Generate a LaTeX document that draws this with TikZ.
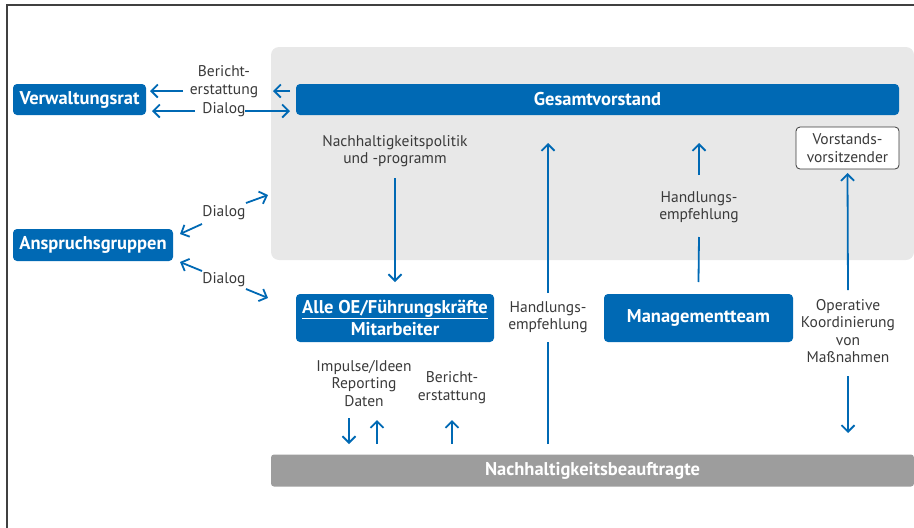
\documentclass[tikz,border=0pt]{standalone}
\usepackage{fontspec}
\setmainfont{PT Sans}
\usetikzlibrary{arrows.meta}
\definecolor{cblue}{HTML}{0069B4}
\definecolor{cpanel}{HTML}{E8E8E8}
\definecolor{cbar}{HTML}{9D9D9D}
\definecolor{ctext}{HTML}{3A3A3A}
\begin{document}
\begin{tikzpicture}[x=1pt,y=-1pt,
  bluebox/.style={fill=cblue,rounded corners=4pt,inner sep=0pt,text=white,font=\fontsize{18.5}{22.5}\selectfont\bfseries,align=center},
  whitebox/.style={fill=white,draw=ctext,line width=0.8pt,rounded corners=4pt,inner sep=0pt,text=ctext,font=\fontsize{15.5}{17.5}\selectfont,align=center},
  lbl/.style={text=ctext,font=\fontsize{15.5}{17.5}\selectfont,align=center,inner sep=1pt},
  arr/.style={draw=cblue,line width=1.8pt,-{Straight Barb[length=6.5pt,width=13pt,line width=1.8pt]}},
  seg/.style={draw=cblue,line width=1.8pt}
]
\useasboundingbox (0,0) rectangle (914,528);
% frame
\draw[line width=1.5pt,draw=black!75] (7,528) -- (7,5) -- (914,5);
% panel
\fill[cpanel,rounded corners=8pt] (271,47) rectangle (914,260);
% bottom bar
\node[fill=cbar,rounded corners=3pt,inner sep=0pt,minimum width=643pt,minimum height=32pt,text=white,font=\fontsize{18.5}{21}\selectfont\bfseries] (NB) at (592.5,470.5) {Nachhaltigkeitsbeauftragte};
% boxes
\node[bluebox,minimum width=603pt,minimum height=31pt] (GV) at (597.5,99.5) {Gesamtvorstand};
\node[bluebox,minimum width=133pt,minimum height=31pt] (VR) at (79.5,99.5) {Verwaltungsrat};
\node[bluebox,minimum width=160pt,minimum height=32pt] (AG) at (93,245) {Anspruchsgruppen};
\node[whitebox,minimum width=103pt,minimum height=42pt] (VV) at (847.5,148) {Vorstands-\\vorsitzender};
\node[bluebox,minimum width=198pt,minimum height=48pt] (OE) at (395,318) {\underline{Alle OE/Führungskräfte}\\Mitarbeiter};
\node[bluebox,minimum width=189pt,minimum height=48pt] (MT) at (698.5,318) {Managementteam};
% labels
\node[lbl] (LB1) at (224,81.5) {Bericht-\\erstattung};
\node[lbl] (LD1) at (224,110) {Dialog};
\node[lbl] (LD2) at (224,213) {Dialog};
\node[lbl] (LD3) at (224,280) {Dialog};
\node[lbl] (LNP) at (395,151) {Nachhaltigkeitspolitik\\und -programm};
\node[lbl] (LH1) at (548,317) {Handlungs-\\empfehlung};
\node[lbl] (LH2) at (699,207) {Handlungs-\\empfehlung};
\node[lbl] (LOK) at (848,331) {Operative\\Koordinierung\\von\\Maßnahmen};
\node[lbl] (LIR) at (364,383.5) {Impulse/Ideen\\Reporting\\Daten};
\node[lbl] (LB2) at (452,387.5) {Bericht-\\erstattung};
% coordinates
\coordinate (c1a) at (183,91); \coordinate (c1b) at (150,91);
\coordinate (c2a) at (290,91); \coordinate (c2b) at (273,91);
\coordinate (c3a) at (195,111); \coordinate (c3b) at (152,111);
\coordinate (c3c) at (245,111); \coordinate (c3d) at (290,111);
\coordinate (c4s) at (202,224); \coordinate (c4a) at (180,234);
\coordinate (c4t) at (246,203); \coordinate (c4b) at (268,195);
\coordinate (c5s) at (202,271); \coordinate (c5a) at (180,262);
\coordinate (c5t) at (246,289); \coordinate (c5b) at (268,298);
% connectors
\draw[arr] (c1a) -- (c1b);
\draw[arr] (c2a) -- (c2b);
\draw[arr] (c3a) -- (c3b);
\draw[arr] (c3c) -- (c3d);
\draw[arr] (c4s) -- (c4a);
\draw[arr] (c4t) -- (c4b);
\draw[arr] (c5s) -- (c5a);
\draw[arr] (c5t) -- (c5b);
\draw[arr] (LNP.south |- 0,178) -- (OE.north |- 0,282);
% middle Handlungsempfehlung
\draw[seg] (548,444) -- (548,342);
\draw[arr] (548,293) -- (548,143);
% management
\draw[seg] (MT.north |- 0,282) -- (699,237);
\draw[arr] (699,175) -- (699,143);
% Vorstandsvorsitzender
\draw[arr] (848,290) -- (VV.south |- 0,173);
\draw[arr] (848,376) -- (848,433);
% bottom
\draw[arr] (349,418) -- (349,444);
\draw[arr] (377,444) -- (377,420);
\draw[arr] (452,444) -- (452,420);
\end{tikzpicture}
\end{document}
